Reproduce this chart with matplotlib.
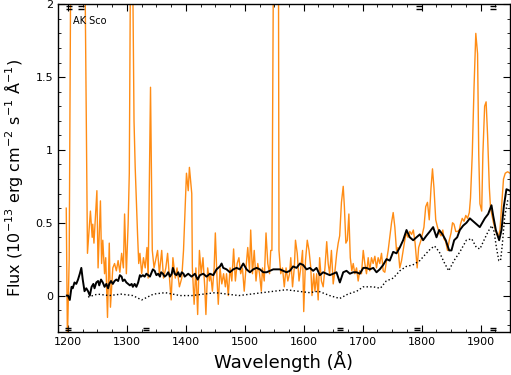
import matplotlib
matplotlib.use("Agg")
import matplotlib.pyplot as plt
from matplotlib.ticker import MultipleLocator, FuncFormatter

# observed spectrum (orange)
obs_wave = [1197, 1199, 1202, 1205, 1215, 1228, 1233, 1238, 1241, 1242, 1244, 1249, 1251, 1255,
            1257, 1259, 1262, 1264, 1267, 1270, 1272, 1276, 1279, 1282, 1285, 1288, 1291, 1294,
            1296, 1299, 1302, 1304, 1306, 1309, 1312, 1314, 1318, 1320, 1322, 1325, 1328, 1331,
            1334, 1336, 1340, 1343, 1346, 1352, 1355, 1359, 1362, 1366, 1369, 1375, 1378, 1382,
            1385, 1389, 1393, 1396, 1400, 1401, 1404, 1406, 1408, 1410, 1411, 1414, 1417, 1420,
            1423, 1426, 1429, 1432, 1434, 1437, 1440, 1442, 1445, 1448, 1450, 1453, 1455, 1458,
            1461, 1464, 1467, 1469, 1472, 1475, 1478, 1481, 1484, 1487, 1490, 1493, 1496, 1499,
            1502, 1505, 1508, 1510, 1513, 1516, 1519, 1522, 1525, 1528, 1530, 1533, 1536, 1539,
            1542, 1544, 1546, 1549, 1553, 1557, 1558, 1561, 1564, 1567, 1570, 1573, 1576, 1578,
            1581, 1584, 1586, 1589, 1592, 1595, 1598, 1600, 1603, 1606, 1609, 1612, 1614, 1617,
            1619, 1622, 1624.5, 1627, 1630, 1633, 1636, 1639, 1641.5, 1644, 1647, 1650, 1653, 1656,
            1658.5, 1661, 1664, 1667, 1669, 1671.5, 1674, 1676.6, 1679, 1681.6, 1684, 1686.7,
            1689.6, 1692.4, 1695, 1698, 1701, 1703.7, 1706.5, 1709.4, 1712, 1715, 1717.8, 1720.7,
            1723.5, 1726.3, 1729, 1732, 1734.8, 1737.6, 1740.5, 1743.3, 1746, 1749, 1751.8, 1754.6,
            1757.4, 1760, 1763, 1766, 1768.7, 1771.5, 1774, 1777, 1780, 1783, 1786, 1789, 1792.5,
            1795, 1799, 1804, 1807, 1810, 1813, 1816, 1818.5, 1821, 1824, 1827, 1830, 1833, 1836,
            1838, 1841, 1844, 1847, 1850, 1852.5, 1855, 1858, 1861, 1864, 1866, 1869, 1872, 1875,
            1878, 1881, 1883, 1886, 1889, 1892, 1895, 1897, 1899, 1902, 1904, 1907, 1909.5, 1912,
            1915, 1917, 1920, 1922, 1926, 1930, 1933, 1936, 1939, 1942, 1946, 1950]
obs_flux = [0.60, -0.30, 0.25, 2.6, 4.0, 2.6, 0.29, 0.58, 0.40, 0.49, 0.36, 0.72, 0.19, 0.65,
            0.22, 0.38, 0.15, 0.26, -0.15, 0.36, -0.08, 0.19, 0.22, 0.17, 0.24, 0.16, 0.29, 0.19,
            0.56, 0.15, 0.49, 0.84, 2.3, 2.6, 1.2, 0.88, 0.42, 0.22, 0.29, 0.15, 0.26, 0.19,
            0.33, 0.12, 1.43, 0.31, 0.19, 0.31, 0.15, 0.31, 0.12, 0.19, 0.29, -0.03, 0.26, 0.12,
            0.19, 0.06, 0.12, 0.31, 0.72, 0.84, 0.72, 0.88, 0.79, 0.70, 0.19, -0.06, 0.19, -0.13,
            0.31, 0.15, 0.26, 0.06, -0.13, 0.19, 0.10, 0.15, 0.03, 0.19, 0.43, 0.10, -0.06, 0.19,
            0.08, 0.15, 0.06, 0.15, 0.00, 0.19, 0.10, 0.32, 0.10, 0.22, 0.26, 0.15, 0.19, 0.03,
            0.19, 0.33, 0.17, 0.45, 0.15, 0.31, 0.10, 0.22, 0.15, 0.03, 0.19, 0.10, 0.43, 0.22,
            0.15, 0.31, 0.31, 2.6, 3.5, 2.6, 0.31, 0.15, 0.19, 0.06, 0.19, 0.10, 0.15, 0.26,
            0.06, 0.19, 0.38, 0.29, 0.10, 0.19, 0.31, -0.11, 0.24, 0.38, 0.31, 0.19, 0.00, 0.15,
            0.03, 0.15, -0.03, 0.26, 0.10, 0.06, 0.19, 0.37, 0.22, 0.15, 0.31, 0.08, 0.17, 0.29,
            0.36, 0.41, 0.64, 0.75, 0.61, 0.36, 0.38, 0.56, 0.26, 0.17, 0.22, 0.15,
            0.19, 0.10, 0.17, 0.15, 0.31, 0.22, 0.15, 0.26, 0.17, 0.26, 0.22, 0.27,
            0.19, 0.26, 0.22, 0.29, 0.17, 0.16, 0.24, 0.31, 0.40, 0.50, 0.57, 0.47,
            0.31, 0.33, 0.19, 0.24, 0.31, 0.38, 0.43, 0.40, 0.44, 0.42, 0.45, 0.36, 0.19,
            0.33, 0.38, 0.47, 0.61, 0.64, 0.52, 0.74, 0.87, 0.74, 0.52, 0.47, 0.43, 0.41, 0.45,
            0.39, 0.37, 0.31, 0.38, 0.43, 0.50, 0.49, 0.44, 0.44, 0.45, 0.49, 0.53, 0.51, 0.55,
            0.53, 0.57, 0.67, 0.97, 1.43, 1.80, 1.66, 0.97, 0.63, 0.58, 0.97, 1.30, 1.33, 1.10,
            0.74, 0.60, 0.54, 0.50, 0.44, 0.40, 0.45, 0.62, 0.80, 0.84, 0.85, 0.84]

# smoothed spectrum (black solid)
smooth_wave = [1198, 1200, 1203, 1206, 1208, 1211, 1214, 1217, 1220, 1222.6, 1225, 1228, 1231,
               1234, 1237, 1240, 1243, 1245, 1248, 1251, 1253, 1256, 1259, 1262, 1265, 1268,
               1270, 1273, 1276, 1279, 1282, 1285, 1288, 1291, 1293, 1296, 1299, 1302, 1305,
               1308, 1310, 1313, 1316, 1319, 1322, 1324, 1327, 1330, 1333, 1336, 1339, 1344,
               1347, 1350, 1353, 1356, 1358, 1361, 1364, 1367, 1370, 1373, 1376, 1378, 1381,
               1384, 1387, 1390, 1393, 1396, 1398, 1404, 1409.7, 1415.4, 1420, 1423.8, 1429.5,
               1435, 1440.8, 1446.5, 1452, 1455, 1457.8, 1460.6, 1463.4, 1469, 1474.7, 1480.4,
               1486, 1491.7, 1497.4, 1503, 1508.7, 1514.3, 1520, 1525.6, 1531.3, 1537, 1542.6,
               1548.3, 1553.9, 1559.5, 1565.2, 1570.8, 1576.5, 1582, 1587.8, 1593.5, 1599,
               1604.8, 1610.4, 1616, 1621.7, 1627.4, 1633, 1638.7, 1644.3, 1650, 1655.6, 1661.3,
               1667, 1672.6, 1678.3, 1684, 1689.6, 1695.2, 1701, 1706.5, 1712, 1718, 1723.5,
               1729, 1734.8, 1740.5, 1746, 1751.8, 1757.4, 1763, 1768.7, 1774.4, 1780, 1785.7,
               1791.3, 1797, 1802.6, 1808, 1814, 1819.6, 1825.3, 1829.8, 1835.5, 1841, 1846.8,
               1850.7, 1855.3, 1860.4, 1864.9, 1870.5, 1876.2, 1881.9, 1890.3, 1898.8, 1907.3,
               1913, 1918.6, 1921.4, 1926, 1931.6, 1935.6, 1939.5, 1944, 1949.7]
smooth_flux = [0.00, 0.00, -0.03, 0.06, 0.05, 0.09, 0.08, 0.11, 0.15, 0.19, 0.11, 0.03, 0.05,
               0.03, 0.00, 0.06, 0.08, 0.05, 0.09, 0.10, 0.07, 0.11, 0.09, 0.06, 0.08, 0.05,
               0.08, 0.10, 0.08, 0.10, 0.11, 0.10, 0.14, 0.13, 0.10, 0.11, 0.09, 0.08, 0.07,
               0.08, 0.06, 0.08, 0.06, 0.09, 0.14, 0.13, 0.14, 0.13, 0.15, 0.14, 0.13, 0.18,
               0.17, 0.14, 0.15, 0.13, 0.16, 0.15, 0.13, 0.14, 0.16, 0.13, 0.15, 0.19, 0.15,
               0.14, 0.16, 0.13, 0.16, 0.15, 0.13, 0.15, 0.13, 0.15, 0.11, 0.14, 0.15,
               0.13, 0.15, 0.14, 0.18, 0.19, 0.20, 0.22, 0.19, 0.18, 0.16, 0.18,
               0.19, 0.18, 0.22, 0.18, 0.16, 0.18, 0.19, 0.18, 0.16, 0.16, 0.17,
               0.18, 0.18, 0.18, 0.17, 0.16, 0.17, 0.20, 0.19, 0.22, 0.21,
               0.18, 0.19, 0.17, 0.19, 0.14, 0.16, 0.15, 0.14, 0.15, 0.16, 0.09,
               0.16, 0.17, 0.15, 0.16, 0.16, 0.15, 0.19, 0.19, 0.18, 0.19, 0.16,
               0.18, 0.21, 0.25, 0.24, 0.30, 0.29, 0.33, 0.38, 0.45, 0.40, 0.38,
               0.40, 0.42, 0.38, 0.41, 0.44, 0.47, 0.40, 0.45, 0.42, 0.38, 0.31,
               0.31, 0.38, 0.40, 0.45, 0.48, 0.50, 0.53, 0.50, 0.47, 0.53,
               0.56, 0.62, 0.55, 0.45, 0.38, 0.45, 0.61, 0.73, 0.72]

# model / photosphere (dotted)
model_wave = [1234, 1250, 1270, 1290, 1310, 1325, 1345, 1365, 1390, 1410, 1430, 1450, 1470,
              1490, 1510, 1530, 1550, 1570, 1590, 1610, 1625, 1644, 1661, 1675, 1690, 1701,
              1718, 1730, 1740, 1752, 1763, 1774, 1785, 1797, 1808, 1815, 1822, 1830, 1838,
              1846, 1855, 1865, 1876, 1885, 1893, 1899, 1907, 1913, 1919, 1923, 1927, 1931,
              1934, 1937, 1941, 1946, 1949]
model_flux = [-0.01, 0.01, 0.00, 0.01, 0.00, -0.03, 0.01, 0.02, 0.00, 0.00, 0.01, 0.02, 0.01,
              0.00, 0.01, 0.02, 0.03, 0.04, 0.03, 0.02, 0.03, 0.00, -0.02, 0.01, 0.03, 0.06,
              0.06, 0.05, 0.10, 0.12, 0.17, 0.20, 0.21, 0.24, 0.29, 0.32, 0.34, 0.30, 0.23,
              0.17, 0.24, 0.30, 0.38, 0.39, 0.33, 0.32, 0.39, 0.44, 0.48, 0.44, 0.33, 0.24,
              0.24, 0.35, 0.54, 0.65, 0.66]

# small line markers at the frame
top_marks = [1201, 1222, 1795, 1921]
bottom_marks = [1200, 1332, 1662, 1793, 1921]


def make_chart():
    fig = plt.figure(figsize=(5.11, 3.75), dpi=100)
    ax = fig.add_axes([0.1135, 0.1147, 0.8845, 0.874])

    ax.plot(obs_wave, obs_flux, color='#ff8c14', linewidth=1.0)
    ax.plot(smooth_wave, smooth_flux, color='black', linewidth=1.4)
    ax.plot(model_wave, model_flux, color='black', linewidth=1.0, linestyle=':')

    for w in top_marks:
        ax.plot([w, w], [1.985, 1.97], color='black', marker='_', markersize=4,
                linestyle='none', markeredgewidth=1.0)
    for w in bottom_marks:
        ax.plot([w, w], [-0.22, -0.235], color='black', marker='_', markersize=4,
                linestyle='none', markeredgewidth=1.0)

    ax.text(0.033, 0.94, 'AK Sco', transform=ax.transAxes, fontsize=7)

    ax.set_xlim(1183, 1950)
    ax.set_ylim(-0.25, 2)
    ax.xaxis.set_major_locator(MultipleLocator(100))
    ax.xaxis.set_minor_locator(MultipleLocator(25))
    ax.yaxis.set_major_locator(MultipleLocator(0.5))
    ax.yaxis.set_minor_locator(MultipleLocator(0.1))
    ax.yaxis.set_major_formatter(FuncFormatter(lambda v, p: f'{v:g}'))

    ax.tick_params(which='both', direction='in', top=True, right=True, labelsize=8)
    ax.tick_params(which='major', length=5, width=0.8)
    ax.tick_params(which='minor', length=2.5, width=0.6)
    for s in ax.spines.values():
        s.set_linewidth(1.0)

    ax.set_xlabel('Wavelength (Å)', fontsize=13, labelpad=3)
    ax.set_ylabel('Flux (10$^{-13}$ erg cm$^{-2}$ s$^{-1}$ Å$^{-1}$)', fontsize=11.5)
    ax.yaxis.set_label_coords(-0.072, 0.47)

    fig.savefig('out.png', dpi=100)


if __name__ == "__main__":
    make_chart()
